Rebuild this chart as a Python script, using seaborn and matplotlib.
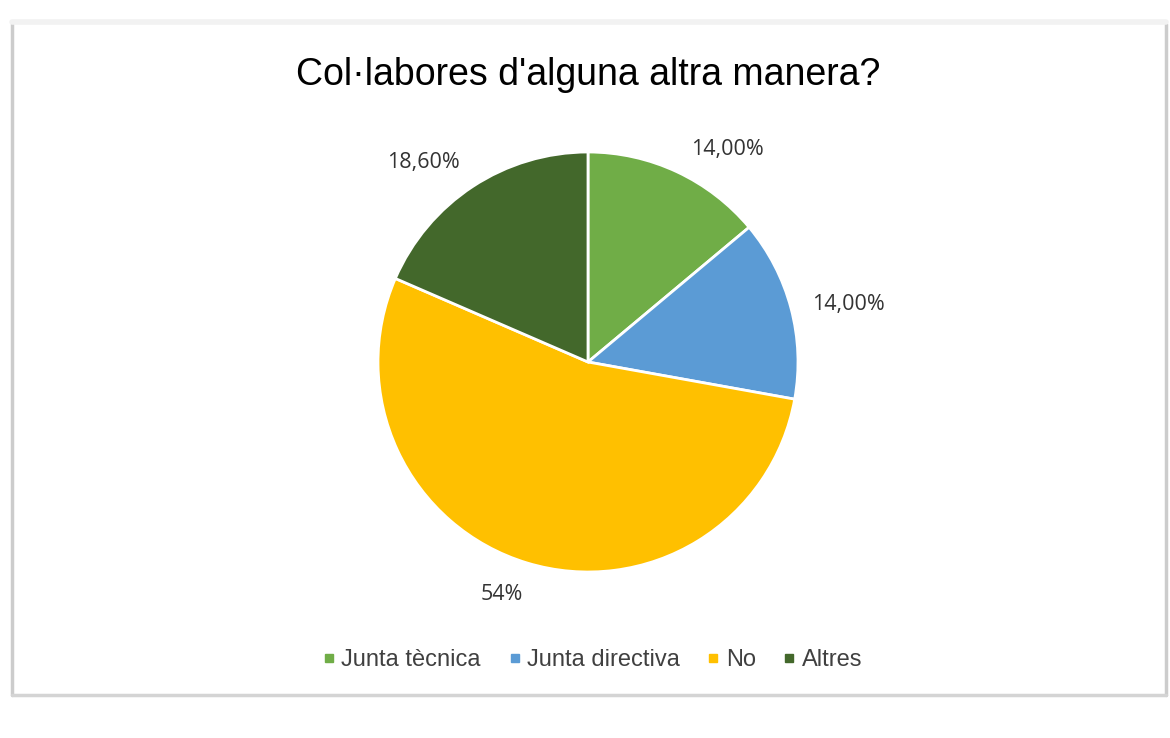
import numpy as np
import matplotlib
matplotlib.use("Agg")
import matplotlib.pyplot as plt
from matplotlib.lines import Line2D
import seaborn as sns

# Survey answers
categories = ["Junta tècnica", "Junta directiva", "No", "Altres"]
shares = [14.0, 14.0, 54.0, 18.6]
share_labels = ["14,00%", "14,00%", "54%", "18,60%"]
colors = ["#70AD47", "#5B9BD5", "#FFC000", "#43682B"]
title = "Col·labores d'alguna altra manera?"

sns.set_theme(style="white")
plt.rcParams["font.family"] = ["Liberation Sans", "DejaVu Sans"]

W, H = 1170, 738
fig = plt.figure(figsize=(W / 100, H / 100), dpi=100)
fig.patch.set_facecolor("white")

# Outer frame of the chart card
frame_kw = dict(transform=fig.transFigure, figure=fig)
fig.add_artist(Line2D([12 / W, 12 / W], [1 - 24 / H, 1 - 695 / H], color="#cccccc", lw=2.5, **frame_kw))
fig.add_artist(Line2D([1166 / W, 1166 / W], [1 - 24 / H, 1 - 695 / H], color="#cccccc", lw=2.5, **frame_kw))
fig.add_artist(Line2D([12 / W, 1166 / W], [1 - 695 / H, 1 - 695 / H], color="#d4d4d4", lw=2.5, **frame_kw))
fig.add_artist(Line2D([12 / W, 1166 / W], [1 - 22 / H, 1 - 22 / H], color="#f2f2f2", lw=4, **frame_kw))

# Pie axes: centre (588, 362), radius 210 px
cx, cy, r = 588, 362, 210
ax = fig.add_axes([(cx - r) / W, (H - cy - r) / H, 2 * r / W, 2 * r / H])
wedges, _ = ax.pie(
    shares,
    colors=colors,
    startangle=90,
    counterclock=False,
    wedgeprops=dict(edgecolor="white", linewidth=2.0),
)
ax.set_xlim(-1, 1)
ax.set_ylim(-1, 1)
ax.set_aspect("equal")
ax.axis("off")

# Value labels outside each wedge (radial distance, angular nudge in degrees)
label_dist = [1.21, 1.27, 1.18, 1.23]
label_turn = [-8.2, -2.4, -3.5, 6.3]
for w, txt, d, turn in zip(wedges, share_labels, label_dist, label_turn):
    ang = np.deg2rad((w.theta1 + w.theta2) / 2 + turn)
    ax.text(d * np.cos(ang), d * np.sin(ang), txt, ha="center", va="center",
            fontsize=15.5, color="#333333", family=["Open Sans", "DejaVu Sans"],
            clip_on=False)

fig.text(588 / W, 1 - 75 / H, title, ha="center", va="center", fontsize=27, color="black")

handles = [Line2D([0], [0], marker="s", linestyle="none", markersize=5.5,
                  markerfacecolor=c, markeredgecolor=c) for c in colors]
leg = fig.legend(handles, categories, loc="center", bbox_to_anchor=(593 / W, 1 - 660 / H),
                 ncol=4, frameon=False, fontsize=17, handlelength=0.45, handletextpad=0.3,
                 columnspacing=1.2, borderpad=0)
for t in leg.get_texts():
    t.set_color("#404040")

fig.savefig("out.png", dpi=100, facecolor="white")
